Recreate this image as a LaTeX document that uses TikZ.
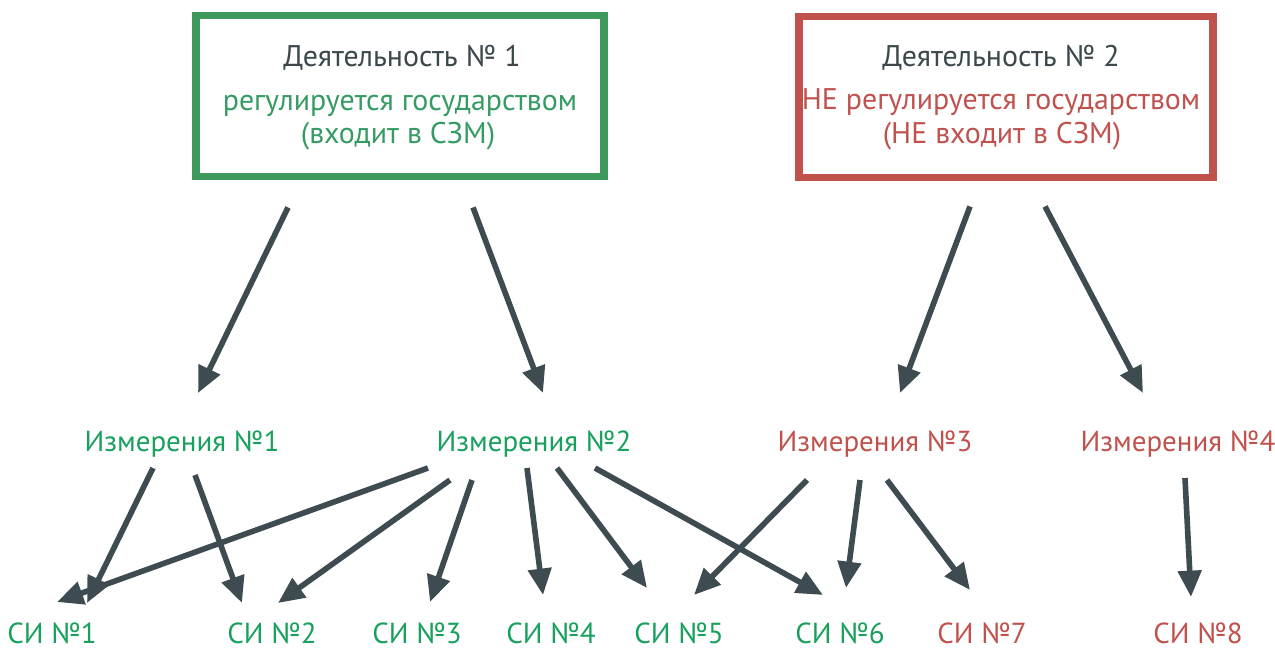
\documentclass[tikz,border=0pt]{standalone}
\usepackage{fontspec}
\setmainfont{PT Sans}
\usetikzlibrary{arrows.meta, calc}
\definecolor{boxgreen}{RGB}{61,153,92}
\definecolor{txtgreen}{RGB}{52,155,98}
\definecolor{lblgreen}{RGB}{24,160,92}
\definecolor{boxred}{RGB}{192,82,78}
\definecolor{txtgray}{RGB}{60,72,76}
\definecolor{arrgray}{RGB}{62,76,82}
\begin{document}
\begin{tikzpicture}[x=0.02cm,y=-0.02cm]
      \tikzset{actbox/.style={draw=#1,
          line width=4.5pt,
          minimum height=3.22cm},
        boxtxt/.style={text=#1, anchor=base, inner sep=1pt,
          font=\fontsize{17}{19}\selectfont},
        lbl/.style={text=#1, anchor=base, inner sep=1pt,
          font=\fontsize{16.5}{19}\selectfont},
        arr/.style={draw=arrgray, line width=3.2pt,
          -{Triangle[length=15pt,width=13pt]}}
      }
      \useasboundingbox (0,0) rectangle (1275,650);
      \node [actbox=boxgreen, minimum width=8.16cm] (act1) at (400,96) {};
      \node [actbox=boxred, minimum width=8.28cm] (act2) at (1006,97) {};
      \node [boxtxt=txtgray] (head1) at (402,66) {Деятельность № 1};
      \node [boxtxt=txtgreen] (reg1) at (400,110) {регулируется государством};
      \node [boxtxt=txtgreen] (szm1) at (398,143) {(входит в СЗМ)};
      \node [boxtxt=txtgray] (head2) at (1001,66) {Деятельность № 2};
      \node [boxtxt=boxred] (reg2) at (1001,109) {НЕ регулируется государством};
      \node [boxtxt=boxred] (szm2) at (1002,143) {(НЕ входит в СЗМ)};
      \node [lbl=lblgreen] (m1) at (182,451) {Измерения №1};
      \node [lbl=lblgreen] (m2) at (534,451) {Измерения №2};
      \node [lbl=boxred] (m3) at (875,451) {Измерения №3};
      \node [lbl=boxred] (m4) at (1178,451) {Измерения №4};
      \node [lbl=lblgreen] (s1) at (52,643) {СИ №1};
      \node [lbl=lblgreen] (s2) at (272,643) {СИ №2};
      \node [lbl=lblgreen] (s3) at (417,643) {СИ №3};
      \node [lbl=lblgreen] (s4) at (551,643) {СИ №4};
      \node [lbl=lblgreen] (s5) at (679,643) {СИ №5};
      \node [lbl=lblgreen] (s6) at (840,643) {СИ №6};
      \node [lbl=boxred] (s7) at (982,643) {СИ №7};
      \node [lbl=boxred] (s8) at (1198,643) {СИ №8};
      % from the boxes
      \draw [arr] ($(act1.south)+(-112,27)$) -- ($(m1.base)+(16,-58)$);
      \draw [arr] ($(act1.south)+(73,27)$) -- ($(m2.base)+(9,-58)$);
      \draw [arr] ($(act2.south)+(-36,25)$) -- ($(m3.base)+(25,-58)$);
      \draw [arr] ($(act2.south)+(39,25)$) -- ($(m4.base)+(-35,-58)$);
      % from the measurements
      \draw [arr] ($(m1.base)+(-29,17)$) -- ($(s1.base)+(35,-40)$);
      \draw [arr] ($(m1.base)+(13,24)$) -- ($(s2.base)+(-30,-40)$);
      \draw [arr] ($(m2.base)+(-106,17)$) -- ($(s1.base)+(5,-41)$);
      \draw [arr] ($(m2.base)+(-84,29)$) -- ($(s2.base)+(6,-40)$);
      \draw [arr] ($(m2.base)+(-62,29)$) -- ($(s3.base)+(13,-41)$);
      \draw [arr] ($(m2.base)+(-7,17)$) -- ($(s4.base)+(-8,-48)$);
      \draw [arr] ($(m2.base)+(23,17)$) -- ($(s5.base)+(-32,-55)$);
      \draw [arr] ($(m2.base)+(61,17)$) -- ($(s6.base)+(-17,-48)$);
      \draw [arr] ($(m3.base)+(-68,29)$) -- ($(s5.base)+(15,-48)$);
      \draw [arr] ($(m3.base)+(-15,29)$) -- ($(s6.base)+(6,-55)$);
      \draw [arr] ($(m3.base)+(12,29)$) -- ($(s7.base)+(-12,-53)$);
      \draw [arr] ($(m4.base)+(7,27)$) -- ($(s8.base)+(-7,-46)$);
\end{tikzpicture}
\end{document}
